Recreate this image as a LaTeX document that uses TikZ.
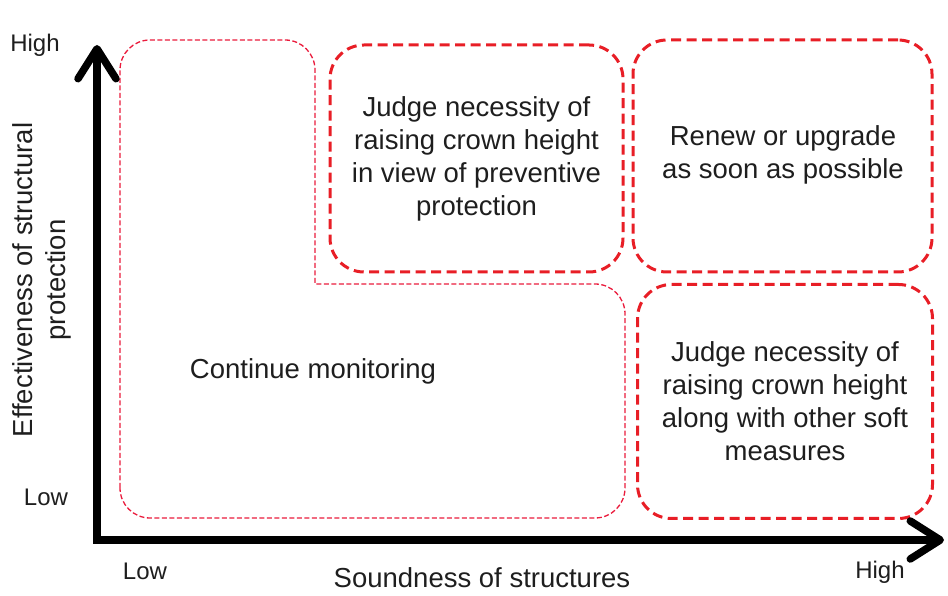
\documentclass[tikz,border=0pt]{standalone}
\usepackage{fontspec}
\setmainfont{Liberation Sans}
\usetikzlibrary{arrows.meta}
\definecolor{boxred}{RGB}{232,30,38}
\definecolor{txt}{RGB}{30,30,30}
\tikzset{
  thickbox/.style={draw=boxred, line width=3pt, dash pattern=on 10pt off 5.5pt, rounded corners=34pt, inner sep=0pt},
  thinbox/.style={draw=boxred!90!magenta, line width=1.3pt, dash pattern=on 5pt off 2.5pt},
  bigtext/.style={text=txt, align=center, font=\fontsize{27.5}{33}\selectfont},
  axlabel/.style={text=txt, font=\fontsize{24}{29}\selectfont},
  axis/.style={line width=7.5pt, {Straight Barb[length=30pt,width=38pt,round]}-{Straight Barb[length=30pt,width=38pt,round]}}
}
\begin{document}
\begin{tikzpicture}[x=1pt,y=1pt]
\useasboundingbox (0,0) rectangle (948,596);
% L-shaped region
\draw[thinbox] (120,108) -- (120,526) arc[start angle=180,end angle=90,radius=30]
  -- (285,556) arc[start angle=90,end angle=0,radius=30]
  -- (315,312) -- (595,312) arc[start angle=90,end angle=0,radius=30]
  -- (625,108) arc[start angle=0,end angle=-90,radius=30]
  -- (150,78) arc[start angle=270,end angle=180,radius=30] -- cycle;
\node[bigtext] (cont) at (313,225) {Continue monitoring};
% boxes
\node[thickbox, minimum width=293pt, minimum height=227pt] (boxA) at (476.5,437.5) {};
\node[bigtext] (tA) at (boxA.center) {Judge necessity of\\raising crown height\\in view of preventive\\protection};
\node[thickbox, minimum width=299pt, minimum height=232pt] (boxB) at (782.5,440) {};
\node[bigtext] (tB) at (783,441) {Renew or upgrade\\as soon as possible};
\node[thickbox, minimum width=295pt, minimum height=234pt] (boxC) at (785,194.5) {};
\node[bigtext] (tC) at (boxC.center) {Judge necessity of\\raising crown height\\along with other soft\\measures};
% axes
\coordinate (ytip) at (97,551);
\coordinate (xtip) at (944,56);
\draw[axis] (ytip) |- (xtip);
% labels
\node[axlabel] (yhigh) at (35,551) {High};
\node[axlabel] (ylow) at (46,99) {Low};
\node[axlabel] (xlow) at (145,25) {Low};
\node[axlabel] (xhigh) at (880,24) {High};
\node[bigtext] (xtitle) at (482,18) {Soundness of structures};
\node[bigtext, rotate=90] (ytitle) at (42,316) {Effectiveness of structural\\protection};
\end{tikzpicture}
\end{document}
